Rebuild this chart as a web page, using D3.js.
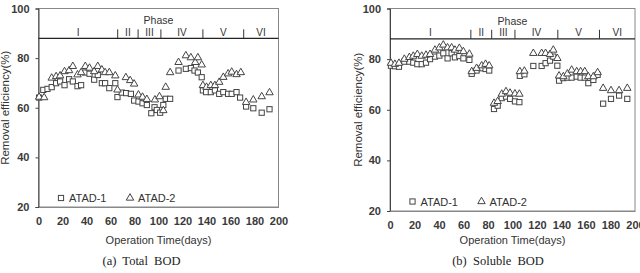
<!DOCTYPE html>
<meta charset="utf-8">
<style>
  body { margin: 0; background: #fff; }
  svg { font-family: "Liberation Sans", Arial, sans-serif; }
  .tick text { font-size: 11px; fill: #3a3a3a; font-weight: bold; }
  .frame { fill: none; stroke: #888; stroke-width: 1px; }
  .mark { fill: #fff; stroke: #444; stroke-width: 1px; }
</style>
<body>
<div id="graph-container"></div>
<script src="https://d3js.org/d3.v7.min.js"></script>
<script>
// phase boundaries (days) and names
var phaseBreaks = [66, 83, 102, 137, 171];
var phaseNames = ["I", "II", "III", "IV", "V", "VI"];
var xTicks = [0, 20, 40, 60, 80, 100, 120, 140, 160, 180, 200];
var yTicks = [20, 40, 60, 80, 100];

// (a) Total BOD
var totalDays1 = [0.5, 4, 7.5, 11, 14.7, 18, 21.7, 25.5, 28.6, 32.5, 35.5, 39, 42.5, 46.4, 49.4, 52.8, 55.5, 59, 64, 65.8, 69.4, 73, 77, 79.7, 83.3, 86.7, 90.3, 94, 96.7, 98.6, 101.4, 104, 106, 109.7, 116.7, 122.8, 127, 130, 132.8, 136, 137, 139.7, 143.6, 147, 150.6, 154, 158, 161, 165, 168, 173, 179, 186, 192.5];
var totalAtad1 = [64.1, 67.2, 67.6, 68.3, 69.9, 70.6, 69.1, 71.5, 70.6, 68.7, 69.1, 74.2, 73.7, 71.3, 73.2, 69.9, 69.9, 67.9, 69.9, 64.3, 66.1, 65.9, 65.6, 62.9, 62.5, 61.8, 61.1, 57.8, 60.2, 59.1, 58.0, 61.1, 63.6, 63.6, 75.0, 75.7, 76.0, 75.0, 74.2, 72.3, 67.0, 66.3, 66.3, 67.0, 65.6, 66.3, 65.6, 65.6, 66.3, 64.1, 60.5, 59.8, 58.0, 59.4];
var totalDays2 = [0.5, 4.7, 11, 14.7, 18, 21.7, 25.5, 28.6, 32.5, 35.5, 39, 42.5, 46.4, 49.4, 52.8, 55.5, 59, 64, 65.8, 72.8, 76.4, 79.7, 83.3, 86.7, 90.3, 97, 100.8, 104, 106, 109.7, 116.7, 122.8, 127, 130.6, 132.8, 136, 137, 140, 143.6, 147, 150.6, 154, 158, 161, 165, 168.6, 173, 179, 186, 192.5];
var totalAtad2 = [64.3, 64.1, 72.0, 72.6, 72.9, 74.6, 75.0, 76.7, 73.3, 74.2, 76.7, 76.0, 74.6, 76.7, 75.3, 74.2, 74.2, 72.9, 67.2, 72.2, 71.0, 69.6, 65.2, 64.3, 63.4, 63.2, 64.5, 58.9, 68.3, 74.2, 78.3, 81.0, 80.2, 78.3, 80.2, 77.3, 69.0, 68.3, 69.0, 69.0, 70.3, 72.3, 73.7, 74.4, 73.4, 74.2, 62.2, 63.2, 64.5, 66.1];

// (b) Soluble BOD
var solDays = [0.8, 4, 7.3, 11.7, 15.8, 19, 22.3, 25.9, 29.4, 32.7, 36.7, 40.3, 43.5, 47, 50.3, 53, 56.6, 59.9, 64.8, 66.7, 70.7, 74.8, 78, 81, 84.9, 87.9, 91.2, 94.7, 98, 102, 105.6, 106, 109.7, 117, 123.8, 127, 130.6, 133.3, 136.6, 138, 141.5, 144.8, 148.3, 152.4, 155.6, 159, 161.9, 166, 169.5, 174, 180.4, 187, 193.7];
var solAtad1 = [77.4, 77.2, 77.0, 79.0, 79.0, 78.6, 78.0, 78.0, 78.6, 80.0, 81.0, 81.4, 82.3, 80.3, 82.3, 80.7, 81.2, 80.3, 79.7, 74.2, 75.5, 76.4, 76.1, 75.5, 60.3, 61.6, 64.6, 65.2, 64.3, 63.3, 63.0, 73.4, 74.0, 77.3, 77.3, 78.4, 79.4, 81.0, 77.4, 71.5, 72.5, 72.7, 72.7, 73.1, 72.7, 72.7, 70.5, 71.8, 73.8, 62.4, 64.3, 65.6, 64.3];
var solAtad2 = [78.4, 78.0, 78.4, 80.0, 80.7, 81.2, 81.9, 81.2, 81.6, 81.9, 83.6, 84.5, 85.6, 84.5, 84.5, 83.6, 84.3, 83.0, 82.0, 75.1, 76.4, 77.4, 78.0, 77.4, 62.6, 63.3, 66.2, 67.2, 66.6, 66.3, 66.2, 75.1, 75.3, 82.3, 82.3, 82.3, 81.9, 83.6, 80.3, 73.4, 73.1, 74.2, 75.7, 75.1, 75.1, 75.1, 73.1, 73.1, 74.7, 68.5, 67.6, 67.6, 68.5];

var svg = d3.select("#graph-container").append("svg")
    .attr("width", 640)
    .attr("height", 273);

var triangle = d3.symbol().type(d3.symbolTriangle).size(24);

function panel(cfg) {
  var x = d3.scaleLinear().domain([0, 200]).range([cfg.left, cfg.right]);
  var y = d3.scaleLinear().domain([20, 100]).range([cfg.bottom, cfg.top]);
  var g = svg.append("g");

  // frame
  g.append("rect").attr("class", "frame")
      .attr("x", cfg.left).attr("y", cfg.top)
      .attr("width", cfg.right - cfg.left).attr("height", cfg.bottom - cfg.top);

  // axes
  var ya = g.append("g")
      .attr("transform", "translate(" + cfg.left + ",0)")
      .call(d3.axisLeft(y).tickValues(yTicks).tickSize(3).tickPadding(6));
  ya.select(".domain").attr("stroke", "#444");
  ya.selectAll(".tick line").attr("stroke", "#444");

  var xa = g.append("g")
      .attr("transform", "translate(0," + cfg.bottom + ")")
      .call(d3.axisBottom(x).tickValues(xTicks).tickSize(0).tickPadding(10));
  xa.select(".domain").attr("stroke", "#888");

  // phase band
  g.append("line")
      .attr("x1", cfg.left).attr("x2", cfg.right)
      .attr("y1", y(88)).attr("y2", y(88))
      .attr("stroke", "#222").attr("stroke-width", 1.2);
  g.selectAll(".pdiv").data(phaseBreaks).enter().append("line")
      .attr("x1", function(d) { return x(d); }).attr("x2", function(d) { return x(d); })
      .attr("y1", y(91.6)).attr("y2", y(88))
      .attr("stroke", "#333");
  var bounds = [0].concat(phaseBreaks).concat([200]);
  g.selectAll(".pname").data(phaseNames).enter().append("text")
      .attr("x", function(d, i) { return x((bounds[i] + bounds[i + 1]) / 2); })
      .attr("y", y(88) - 2.5)
      .attr("text-anchor", "middle")
      .attr("font-size", 10).attr("fill", "#333")
      .text(String);
  g.append("text")
      .attr("x", x(100)).attr("y", y(88) - 14)
      .attr("text-anchor", "middle")
      .attr("font-size", 10.5).attr("fill", "#333")
      .text("Phase");

  // points
  g.selectAll(".sq").data(cfg.days1).enter().append("rect")
      .attr("class", "mark")
      .attr("x", function(d) { return x(d) - 2.6; })
      .attr("y", function(d, i) { return y(cfg.v1[i]) - 2.6; })
      .attr("width", 5.2).attr("height", 5.2);
  g.selectAll(".tri").data(cfg.days2).enter().append("path")
      .attr("class", "mark")
      .attr("d", triangle)
      .attr("transform", function(d, i) { return "translate(" + x(d) + "," + y(cfg.v2[i]) + ")"; });

  // legend
  var ly = cfg.legendY;
  g.append("rect").attr("class", "mark")
      .attr("x", cfg.legendX - 2.6).attr("y", ly - 2.6).attr("width", 5.2).attr("height", 5.2);
  g.append("text").attr("x", cfg.legendX + 8).attr("y", ly + 4)
      .attr("font-size", 11).attr("fill", "#333").text("ATAD-1");
  g.append("path").attr("class", "mark").attr("d", triangle)
      .attr("transform", "translate(" + (cfg.legendX + 69) + "," + ly + ")");
  g.append("text").attr("x", cfg.legendX + 77).attr("y", ly + 4)
      .attr("font-size", 11).attr("fill", "#333").text("ATAD-2");

  // titles
  g.append("text")
      .attr("x", (cfg.left + cfg.right) / 2).attr("y", 244)
      .attr("text-anchor", "middle").attr("font-size", 11).attr("fill", "#333")
      .text("Operation Time(days)");
  g.append("text")
      .attr("transform", "translate(" + cfg.ytitleX + "," + ((cfg.top + cfg.bottom) / 2) + ") rotate(-90)")
      .attr("text-anchor", "middle").attr("font-size", 11.5).attr("fill", "#333")
      .text("Removal efficiency(%)");
  g.append("text")
      .attr("x", cfg.captionX).attr("y", 265)
      .attr("text-anchor", "middle")
      .attr("font-family", "Liberation Serif, Times New Roman, serif")
      .attr("font-size", 12.5).attr("fill", "#222")
      .attr("xml:space", "preserve")
      .text(cfg.caption);
}

panel({ left: 38.5, right: 278.5, top: 8.5, bottom: 207, ytitleX: 9,
        days1: totalDays1, v1: totalAtad1, days2: totalDays2, v2: totalAtad2,
        legendX: 61, legendY: 198, captionX: 141.5, caption: "(a)  Total  BOD" });
panel({ left: 390, right: 635, top: 8.5, bottom: 211, ytitleX: 362,
        days1: solDays, v1: solAtad1, days2: solDays, v2: solAtad2,
        legendX: 412.5, legendY: 201.5, captionX: 498, caption: "(b)  Soluble  BOD" });
</script>
</body>
